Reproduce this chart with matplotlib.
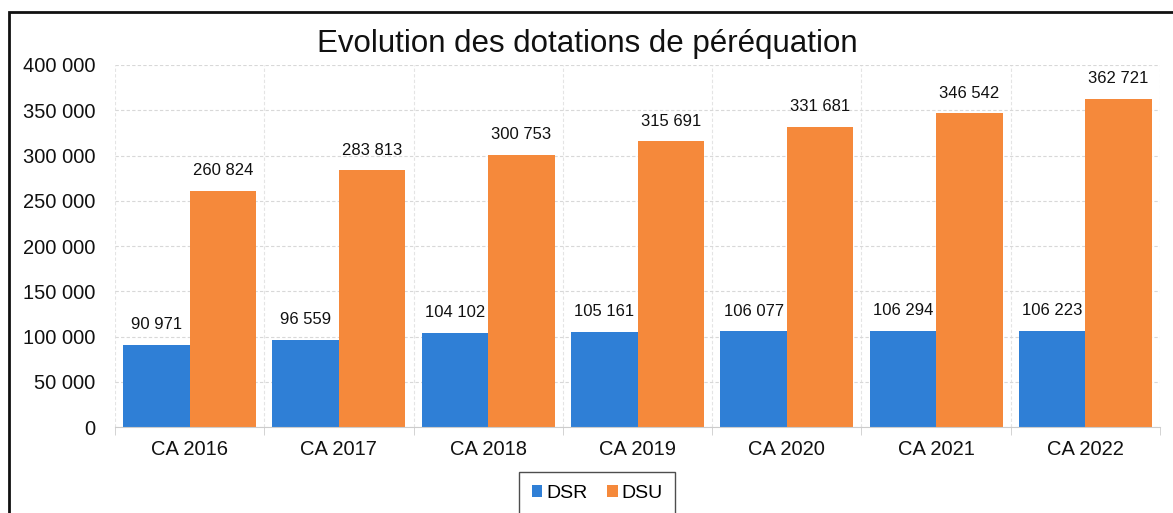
import numpy as np
import matplotlib
matplotlib.use('Agg')
import matplotlib.pyplot as plt
from matplotlib.patches import Rectangle
from matplotlib.ticker import FuncFormatter

categories = ['CA 2016', 'CA 2017', 'CA 2018', 'CA 2019', 'CA 2020', 'CA 2021', 'CA 2022']
dsr = [90971, 96559, 104102, 105161, 106077, 106294, 106223]
dsu = [260824, 283813, 300753, 315691, 331681, 346542, 362721]
y_ticks = [0, 50000, 100000, 150000, 200000, 250000, 300000, 350000, 400000]

BLUE = '#2f7fd6'
ORANGE = '#f5893b'


def fmt_fr(v):
    return f"{int(v):,}".replace(',', ' ')


plt.rcParams['font.family'] = ['Liberation Sans', 'DejaVu Sans']

fig = plt.figure(figsize=(11.73, 5.13), dpi=100)
ax = fig.add_axes([0.098, 0.1676, 0.891, 0.7057])

x = np.arange(len(categories))
w = 0.445
b1 = ax.bar(x - w / 2, dsr, width=w, color=BLUE, label='DSR')
b2 = ax.bar(x + w / 2, dsu, width=w, color=ORANGE, label='DSU')

for rect, v in zip(list(b1) + list(b2), dsr + dsu):
    ax.annotate(fmt_fr(v), (rect.get_x() + rect.get_width() / 2, v),
                xytext=(0, 9), textcoords='offset points',
                ha='center', va='bottom', fontsize=12, color='#111111')

ax.set_xlim(-0.5, len(categories) - 0.5)
ax.set_ylim(0, 400000)
ax.set_yticks(y_ticks)
ax.yaxis.set_major_formatter(FuncFormatter(lambda v, p: fmt_fr(v)))
ax.set_xticks(x)
ax.set_xticklabels(categories)
ax.set_xticks(np.arange(-0.5, len(categories), 1), minor=True)
ax.tick_params(axis='x', which='major', length=0, labelsize=14.5, pad=9, colors='#111111')
ax.tick_params(axis='x', which='minor', length=6, color='#cccccc', direction='out')
ax.tick_params(axis='y', length=0, labelsize=14.5, pad=14, colors='#111111')

ax.grid(axis='y', color='#d8d8d8', linestyle=(0, (3, 2)), linewidth=0.8)
ax.grid(axis='x', which='minor', color='#e4e4e4', linestyle=(0, (3, 2)), linewidth=0.8)
ax.set_axisbelow(True)
for s in ['top', 'right', 'left']:
    ax.spines[s].set_visible(False)
ax.spines['bottom'].set_color('#cccccc')

fig.text(0.501, 0.914, 'Evolution des dotations de péréquation', ha='center', va='center',
         fontsize=22.5, color='#111111')

leg = fig.legend(handles=[b1, b2], loc='upper center', bbox_to_anchor=(0.509, 0.099),
                 ncol=2, frameon=True, fancybox=False, fontsize=14, handlelength=0.55,
                 handleheight=0.55, handletextpad=0.2, columnspacing=1.0, borderpad=0.65)
leg.get_frame().set_edgecolor('#222222')
leg.get_frame().set_linewidth(1.0)

fig.add_artist(Rectangle((0.0077, -0.05), 1.05, 0.9766 + 0.05, transform=fig.transFigure,
                         fill=False, edgecolor='#111111', linewidth=2))

fig.savefig('out.png', dpi=100)
